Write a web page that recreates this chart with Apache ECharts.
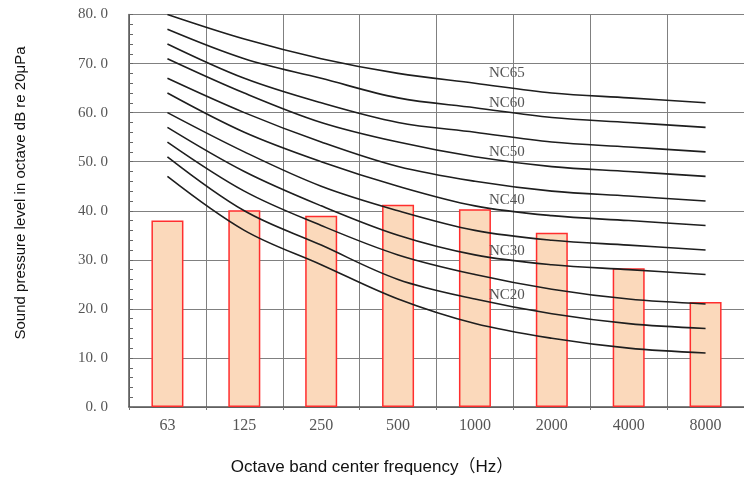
<!DOCTYPE html>
<html>
<head>
<meta charset="utf-8">
<script src="https://cdn.jsdelivr.net/npm/echarts@6/dist/echarts.min.js"></script>
<style>html,body{margin:0;padding:0;background:#fff;}#c{width:744px;height:482px;}</style>
</head>
<body>
<div id="c"></div>
<script>
// Octave band center frequencies (Hz)
const categories = ['63', '125', '250', '500', '1000', '2000', '4000', '8000'];
// Measured sound pressure level (bars)
const measured = [38.0, 40.1, 39.0, 41.2, 40.3, 35.5, 28.3, 21.4];
// NC curves
const nc15 = [47, 36, 29, 22, 17, 14, 12, 11];
const nc20 = [51, 40, 33, 26, 22, 19, 17, 16];
const nc25 = [54, 44, 37, 31, 27, 24, 22, 21];
const nc30 = [57, 48, 41, 35, 31, 29, 28, 27];
const nc35 = [60, 52, 45, 40, 36, 34, 33, 32];
const nc40 = [64, 56, 50, 45, 41, 39, 38, 37];
const nc45 = [67, 60, 54, 49, 46, 44, 43, 42];
const nc50 = [71, 64, 58, 54, 51, 49, 48, 47];
const nc55 = [74, 67, 62, 58, 56, 54, 53, 52];
const nc60 = [77, 71, 67, 63, 61, 59, 58, 57];
const nc65 = [80, 75, 71, 68, 66, 64, 63, 62];
const curveNames = ['NC15','NC20','NC25','NC30','NC35','NC40','NC45','NC50','NC55','NC60','NC65'];
const curves = [nc15, nc20, nc25, nc30, nc35, nc40, nc45, nc50, nc55, nc60, nc65];
const labeledCurves = ['NC65', 'NC60', 'NC50', 'NC40', 'NC30', 'NC20'];
const yTicks = [0, 10, 20, 30, 40, 50, 60, 70, 80];

const chart = echarts.init(document.getElementById('c'), null, {renderer: 'canvas'});
const labelLift = {NC65: -10, NC60: -5, NC50: -5, NC40: -6, NC30: -4, NC20: -4};

const series = [{
  type: 'bar',
  data: measured,
  barWidth: 32,
  itemStyle: {color: '#fbd9bb', borderColor: '#ff2e2e', borderWidth: 1.5},
  z: 2
}];
curves.forEach((c, i) => {
  const name = curveNames[i];
  const s = {
    type: 'line', name: name, data: c, smooth: 0.35, symbol: 'none',
    lineStyle: {color: '#1e1e1e', width: 1.6}, z: 3
  };
  if (labeledCurves.indexOf(name) >= 0) {
    s.markPoint = {
      symbol: 'circle', symbolSize: 0, silent: true,
      data: [{coord: [4, c[4]], value: name}],
      label: {
        show: true, formatter: name, position: [14, labelLift[name]],
        align: 'left', verticalAlign: 'middle',
        fontFamily: 'Liberation Serif', fontSize: 15, color: '#555'
      }
    };
  }
  series.push(s);
});

chart.setOption({
  animation: false,
  backgroundColor: '#fff',
  grid: {left: 129, top: 14.5, right: -6.6, bottom: 75},
  xAxis: {
    type: 'category', data: categories, boundaryGap: true,
    axisLine: {lineStyle: {color: '#555', width: 1.5}},
    axisTick: {show: true, length: 3, lineStyle: {color: '#777'}},
    axisLabel: {margin: 11, fontFamily: 'Liberation Serif', fontSize: 16, color: '#555'},
    splitLine: {show: true, interval: 0, lineStyle: {color: '#808080', width: 1}}
  },
  yAxis: {
    type: 'value', min: yTicks[0], max: yTicks[yTicks.length - 1], interval: 10,
    axisLine: {show: true, lineStyle: {color: '#555', width: 1.5}},
    axisTick: {show: true, inside: true, length: 4, lineStyle: {color: '#666'}},
    minorTick: {show: true, splitNumber: 5, length: 4, lineStyle: {color: '#666'}},
    axisLabel: {
      margin: 21, fontFamily: 'Liberation Serif', fontSize: 15, color: '#555',
      formatter: v => v.toFixed(1).replace('.', '. ')
    },
    splitLine: {show: true, lineStyle: {color: '#808080', width: 1}}
  },
  graphic: [
    {
      type: 'text', x: 21, y: 193, rotation: Math.PI / 2,
      style: {
        text: 'Sound pressure level in octave dB re 20μPa',
        fontFamily: 'Liberation Sans', fontSize: 15, fill: '#111',
        align: 'center', verticalAlign: 'middle'
      }
    },
    {
      type: 'text', x: 372, y: 467,
      style: {
        text: 'Octave band center frequency（Hz）',
        fontFamily: "'Liberation Sans', 'Noto Sans CJK SC'", fontSize: 17, fill: '#111',
        align: 'center', verticalAlign: 'middle'
      }
    }
  ],
  series: series
});
</script>
</body>
</html>
